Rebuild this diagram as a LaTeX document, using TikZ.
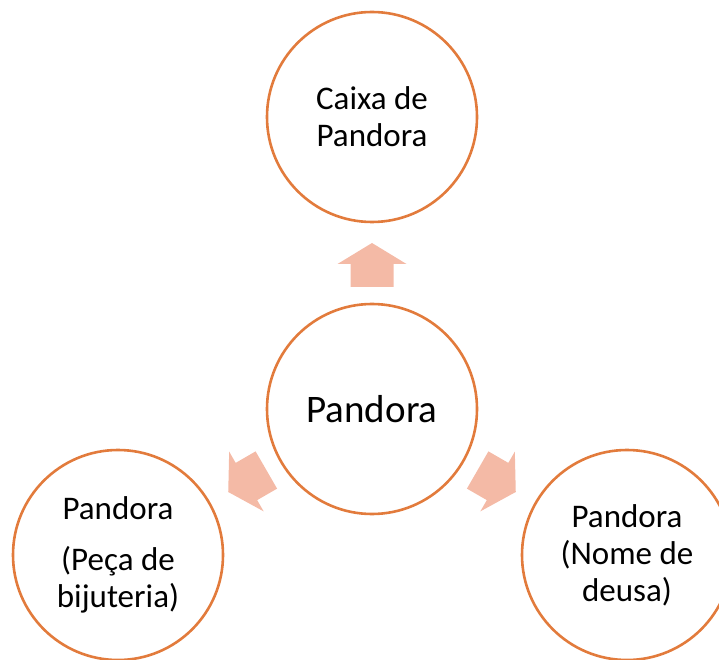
\documentclass[tikz,border=0pt]{standalone}
\usepackage{fontspec}
\setmainfont{Carlito}
\usetikzlibrary{positioning}
\definecolor{ringorange}{HTML}{E27B3C}
\definecolor{arrowpink}{HTML}{F4BAA6}
\tikzset{bubble/.style={circle, draw=ringorange, line width=2.6pt, minimum size=210pt,
    inner sep=0pt, align=center, font=\fontsize{33}{37}\selectfont},
  blockarr/.style={fill=arrowpink, draw=none}}

\begin{document}
\begin{tikzpicture}[x=1pt, y=1pt]
        \useasboundingbox (0,0) rectangle (719,659);
        \node[bubble, font=\fontsize{39}{45}\selectfont] (hub) at (372,250) {Pandora};
        \node[bubble] (box) at (372,542) {Caixa de\\Pandora};
        \node[bubble] (jewel) at (118,104) {Pandora\\[14pt](Peça de\\bijuteria)};
        \node[bubble] (goddess) at (627,104) {Pandora\\(Nome de\\deusa)};
        % block arrows pointing out of the hub
        \foreach \ang in {90,210,330}
            \fill[blockarr, shift={(hub)}, rotate=\ang]
                (122,-21.5) -- (145,-21.5) -- (145,-34.5) -- (166,0)
                -- (145,34.5) -- (145,21.5) -- (122,21.5) -- cycle;
    \end{tikzpicture}
\end{document}
